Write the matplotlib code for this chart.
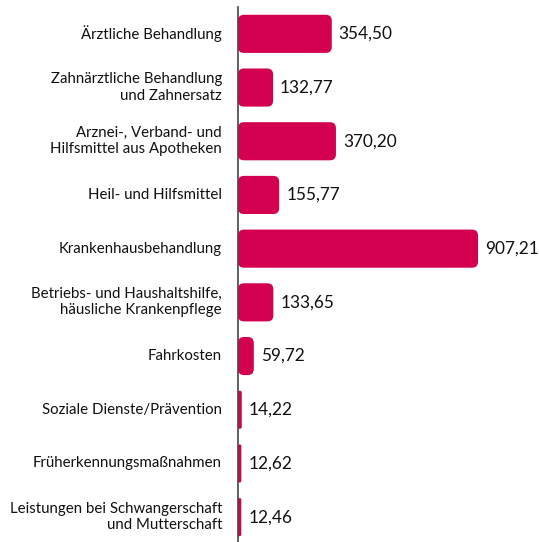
#!/usr/bin/env python3
"""
Horizontal bar chart of health expenditure categories with rounded bars.
"""

import matplotlib
matplotlib.use("Agg")
import matplotlib.pyplot as plt
from matplotlib.patches import FancyBboxPatch

categories = [
    "Ärztliche Behandlung",
    "Zahnärztliche Behandlung\nund Zahnersatz",
    "Arznei-, Verband- und\nHilfsmittel aus Apotheken",
    "Heil- und Hilfsmittel",
    "Krankenhausbehandlung",
    "Betriebs- und Haushaltshilfe,\nhäusliche Krankenpflege",
    "Fahrkosten",
    "Soziale Dienste/Prävention",
    "Früherkennungsmaßnahmen",
    "Leistungen bei Schwangerschaft\nund Mutterschaft",
]
values = [354.50, 132.77, 370.20, 155.77, 907.21, 133.65, 59.72, 14.22, 12.62, 12.46]

BAR_COLOR = "#d40050"
FONT = ["Lato", "DejaVu Sans"]


def main():
    fig = plt.figure(figsize=(5.39, 5.42), dpi=100)
    ax = fig.add_axes([238 / 539, -2 / 542, 301 / 539, 537 / 542])

    xmax = 1137.6
    ax.set_xlim(0, xmax)
    ax.set_ylim(len(values) - 0.5, -0.5)

    bar_h = 0.71
    # rounding radius ~6 px in both directions
    r_x = 6 / (301 / xmax)
    r_y = 6 / (537 / len(values))
    aspect = r_y / r_x
    for i, v in enumerate(values):
        rs = min(r_x, v / 2)
        patch = FancyBboxPatch(
            (0, i - bar_h / 2), v, bar_h,
            boxstyle=f"round,pad=0,rounding_size={rs}",
            mutation_aspect=aspect,
            facecolor=BAR_COLOR, edgecolor="none", zorder=2,
        )
        ax.add_patch(patch)
        label = f"{v:.2f}".replace(".", ",")
        ax.annotate(label, (v, i), xytext=(5, 0), textcoords="offset points",
                    va="center", ha="left", fontsize=12.4, family=FONT,
                    color="#111111")

    ax.set_yticks(range(len(categories)))
    ax.set_yticklabels(categories, fontsize=10.8, family=FONT, color="#111111",
                       linespacing=1.2, va="center")
    ax.tick_params(axis="y", length=0, pad=11.5)
    ax.set_xticks([])

    for side in ["top", "right", "bottom"]:
        ax.spines[side].set_visible(False)
    ax.spines["left"].set_color("#444444")
    ax.spines["left"].set_linewidth(1.2)
    ax.spines["left"].set_zorder(3)

    fig.savefig("out.png", dpi=100)


if __name__ == "__main__":
    main()
